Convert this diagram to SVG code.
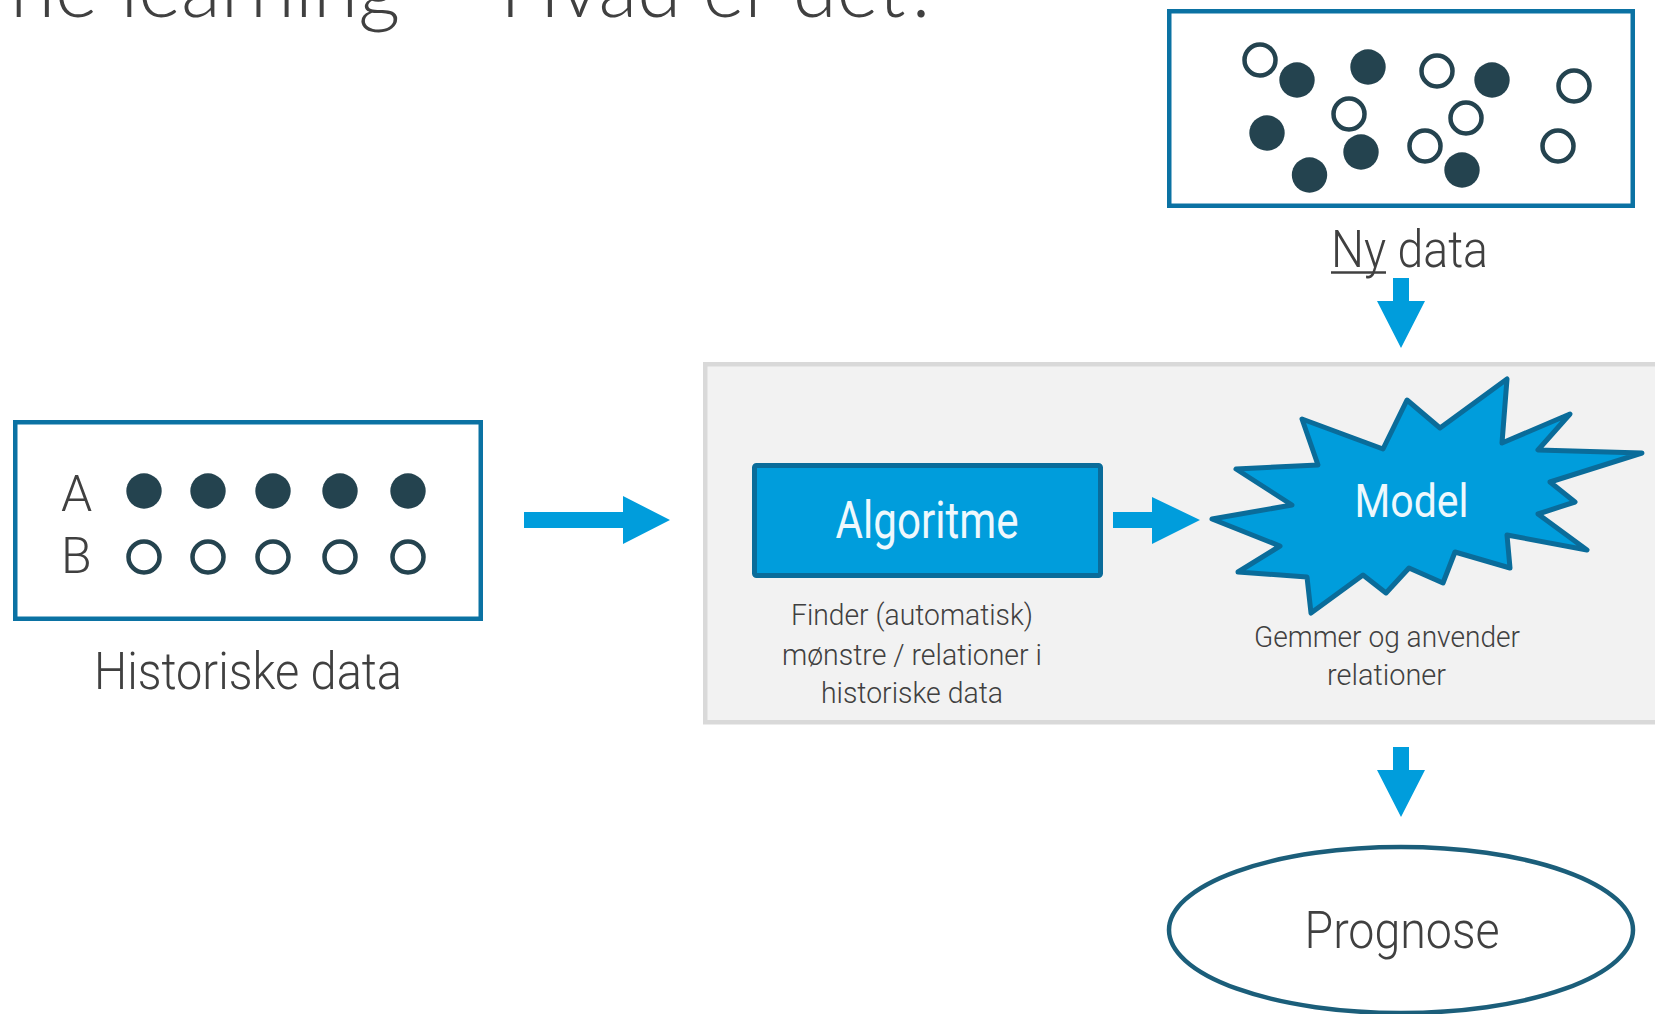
<svg xmlns="http://www.w3.org/2000/svg" width="1655" height="1014" viewBox="0 0 1655 1014">
<style>
.lbl{font-family:Roboto,"Liberation Sans",sans-serif;font-weight:300;fill:#404040}
.wht{font-family:Roboto,"Liberation Sans",sans-serif;font-weight:400;fill:#eef8fd}
.ttl{font-family:Lato,"Open Sans",sans-serif;font-weight:300;fill:#404040;font-size:82px}
.box{fill:#ffffff;stroke:#0b72a3;stroke-width:4.5}
.dot{fill:#24434f}
.ring{fill:#ffffff;stroke:#24434f;stroke-width:4.5}
.arr{fill:#009ddc}
</style>
<rect width="1655" height="1014" fill="#ffffff"/>
<g id="title">
<text class="ttl" x="400" y="17" text-anchor="end">ne learning</text>
<text class="ttl" x="500" y="17" textLength="440" lengthAdjust="spacingAndGlyphs">Hvad er det?</text>
</g>
<g id="panel">
<rect x="705.25" y="364.25" width="1000" height="358" fill="#f2f2f2" stroke="#d9d9d9" stroke-width="4.5"/>
</g>
<g id="historiske-data">
<rect class="box" x="15.25" y="422.25" width="465.5" height="196.5"/>
<text class="lbl" x="61" y="511" font-size="50">A</text>
<text class="lbl" x="61" y="573" font-size="50">B</text>
<circle class="dot" cx="144" cy="491" r="17.7"/>
<circle class="dot" cx="208" cy="491" r="17.7"/>
<circle class="dot" cx="273" cy="491" r="17.7"/>
<circle class="dot" cx="340" cy="491" r="17.7"/>
<circle class="dot" cx="408" cy="491" r="17.7"/>
<circle class="ring" cx="144" cy="557" r="15.5"/>
<circle class="ring" cx="208" cy="557" r="15.5"/>
<circle class="ring" cx="273" cy="557" r="15.5"/>
<circle class="ring" cx="340" cy="557" r="15.5"/>
<circle class="ring" cx="408" cy="557" r="15.5"/>
<text class="lbl" x="248" y="689" font-size="52" text-anchor="middle" textLength="308" lengthAdjust="spacingAndGlyphs">Historiske data</text>
</g>
<g id="ny-data">
<rect class="box" x="1169.25" y="11.25" width="463.5" height="194.5"/>
<g transform="translate(2,2)">
<circle class="ring" cx="1258" cy="58" r="15.5"/>
<circle class="dot" cx="1295" cy="78" r="17.7"/>
<circle class="dot" cx="1366" cy="65" r="17.7"/>
<circle class="ring" cx="1435" cy="69" r="15.5"/>
<circle class="dot" cx="1490" cy="78" r="17.7"/>
<circle class="ring" cx="1572" cy="84" r="15.5"/>
<circle class="ring" cx="1347" cy="112" r="15.5"/>
<circle class="ring" cx="1464" cy="116" r="15.5"/>
<circle class="dot" cx="1265" cy="131" r="17.7"/>
<circle class="dot" cx="1359" cy="150" r="17.7"/>
<circle class="ring" cx="1423" cy="144" r="15.5"/>
<circle class="dot" cx="1307.5" cy="173" r="17.7"/>
<circle class="dot" cx="1460" cy="168" r="17.7"/>
<circle class="ring" cx="1556" cy="144" r="15.5"/>
</g>
<text class="lbl" x="1331" y="267" font-size="52" textLength="157" lengthAdjust="spacingAndGlyphs">Ny data</text>
<line x1="1331" y1="272.5" x2="1386" y2="272.5" stroke="#404040" stroke-width="2.5"/>
</g>
<g id="algoritme">
<rect x="754.5" y="465.5" width="346" height="110" rx="2" fill="#009ddc" stroke="#0a6c9a" stroke-width="5"/>
<text class="wht" x="927" y="538" font-size="52" text-anchor="middle" textLength="183" lengthAdjust="spacingAndGlyphs">Algoritme</text>
<text class="lbl" x="912" y="625" font-size="30" text-anchor="middle" textLength="242" lengthAdjust="spacingAndGlyphs">Finder (automatisk)</text>
<text class="lbl" x="912" y="665" font-size="30" text-anchor="middle" textLength="260" lengthAdjust="spacingAndGlyphs">mønstre / relationer i</text>
<text class="lbl" x="912" y="703" font-size="30" text-anchor="middle" textLength="182" lengthAdjust="spacingAndGlyphs">historiske data</text>
</g>
<g id="model">
<polygon points="1212,519 1292,505 1236,469 1318,465 1302,419 1383,449 1407,400 1440,428 1507,379 1502,443 1570,414 1538,450 1642,453 1550,482 1575,502 1538,514 1587,550 1507,535 1510,568 1455,552 1443,583 1409,568 1386,593 1363,575 1311,613 1307,577 1238,572 1280,546" fill="#009ddc" stroke="#0a6c9a" stroke-width="5" stroke-linejoin="round"/>
<text class="wht" x="1411.5" y="517" font-size="47" text-anchor="middle" textLength="114" lengthAdjust="spacingAndGlyphs">Model</text>
<text class="lbl" x="1387" y="647" font-size="30" text-anchor="middle" textLength="266" lengthAdjust="spacingAndGlyphs">Gemmer og anvender</text>
<text class="lbl" x="1386.5" y="685" font-size="30" text-anchor="middle" textLength="119" lengthAdjust="spacingAndGlyphs">relationer</text>
</g>
<g id="prognose">
<ellipse cx="1401" cy="930" rx="232" ry="83" fill="#ffffff" stroke="#1b5e7a" stroke-width="4.5"/>
<text class="lbl" x="1402" y="948" font-size="52" text-anchor="middle" textLength="195" lengthAdjust="spacingAndGlyphs">Prognose</text>
</g>
<g id="connectors">
<polygon class="arr" points="524,512 623,512 623,496 670,520 623,544 623,528 524,528"/>
<polygon class="arr" points="1113,512 1152,512 1152,497 1200,520 1152,544 1152,528 1113,528"/>
<polygon class="arr" points="1393,278 1409,278 1409,301 1425,301 1401,348 1377,301 1393,301"/>
<polygon class="arr" points="1393,747 1409,747 1409,770 1425,770 1401,817 1377,770 1393,770"/>
</g>
</svg>
